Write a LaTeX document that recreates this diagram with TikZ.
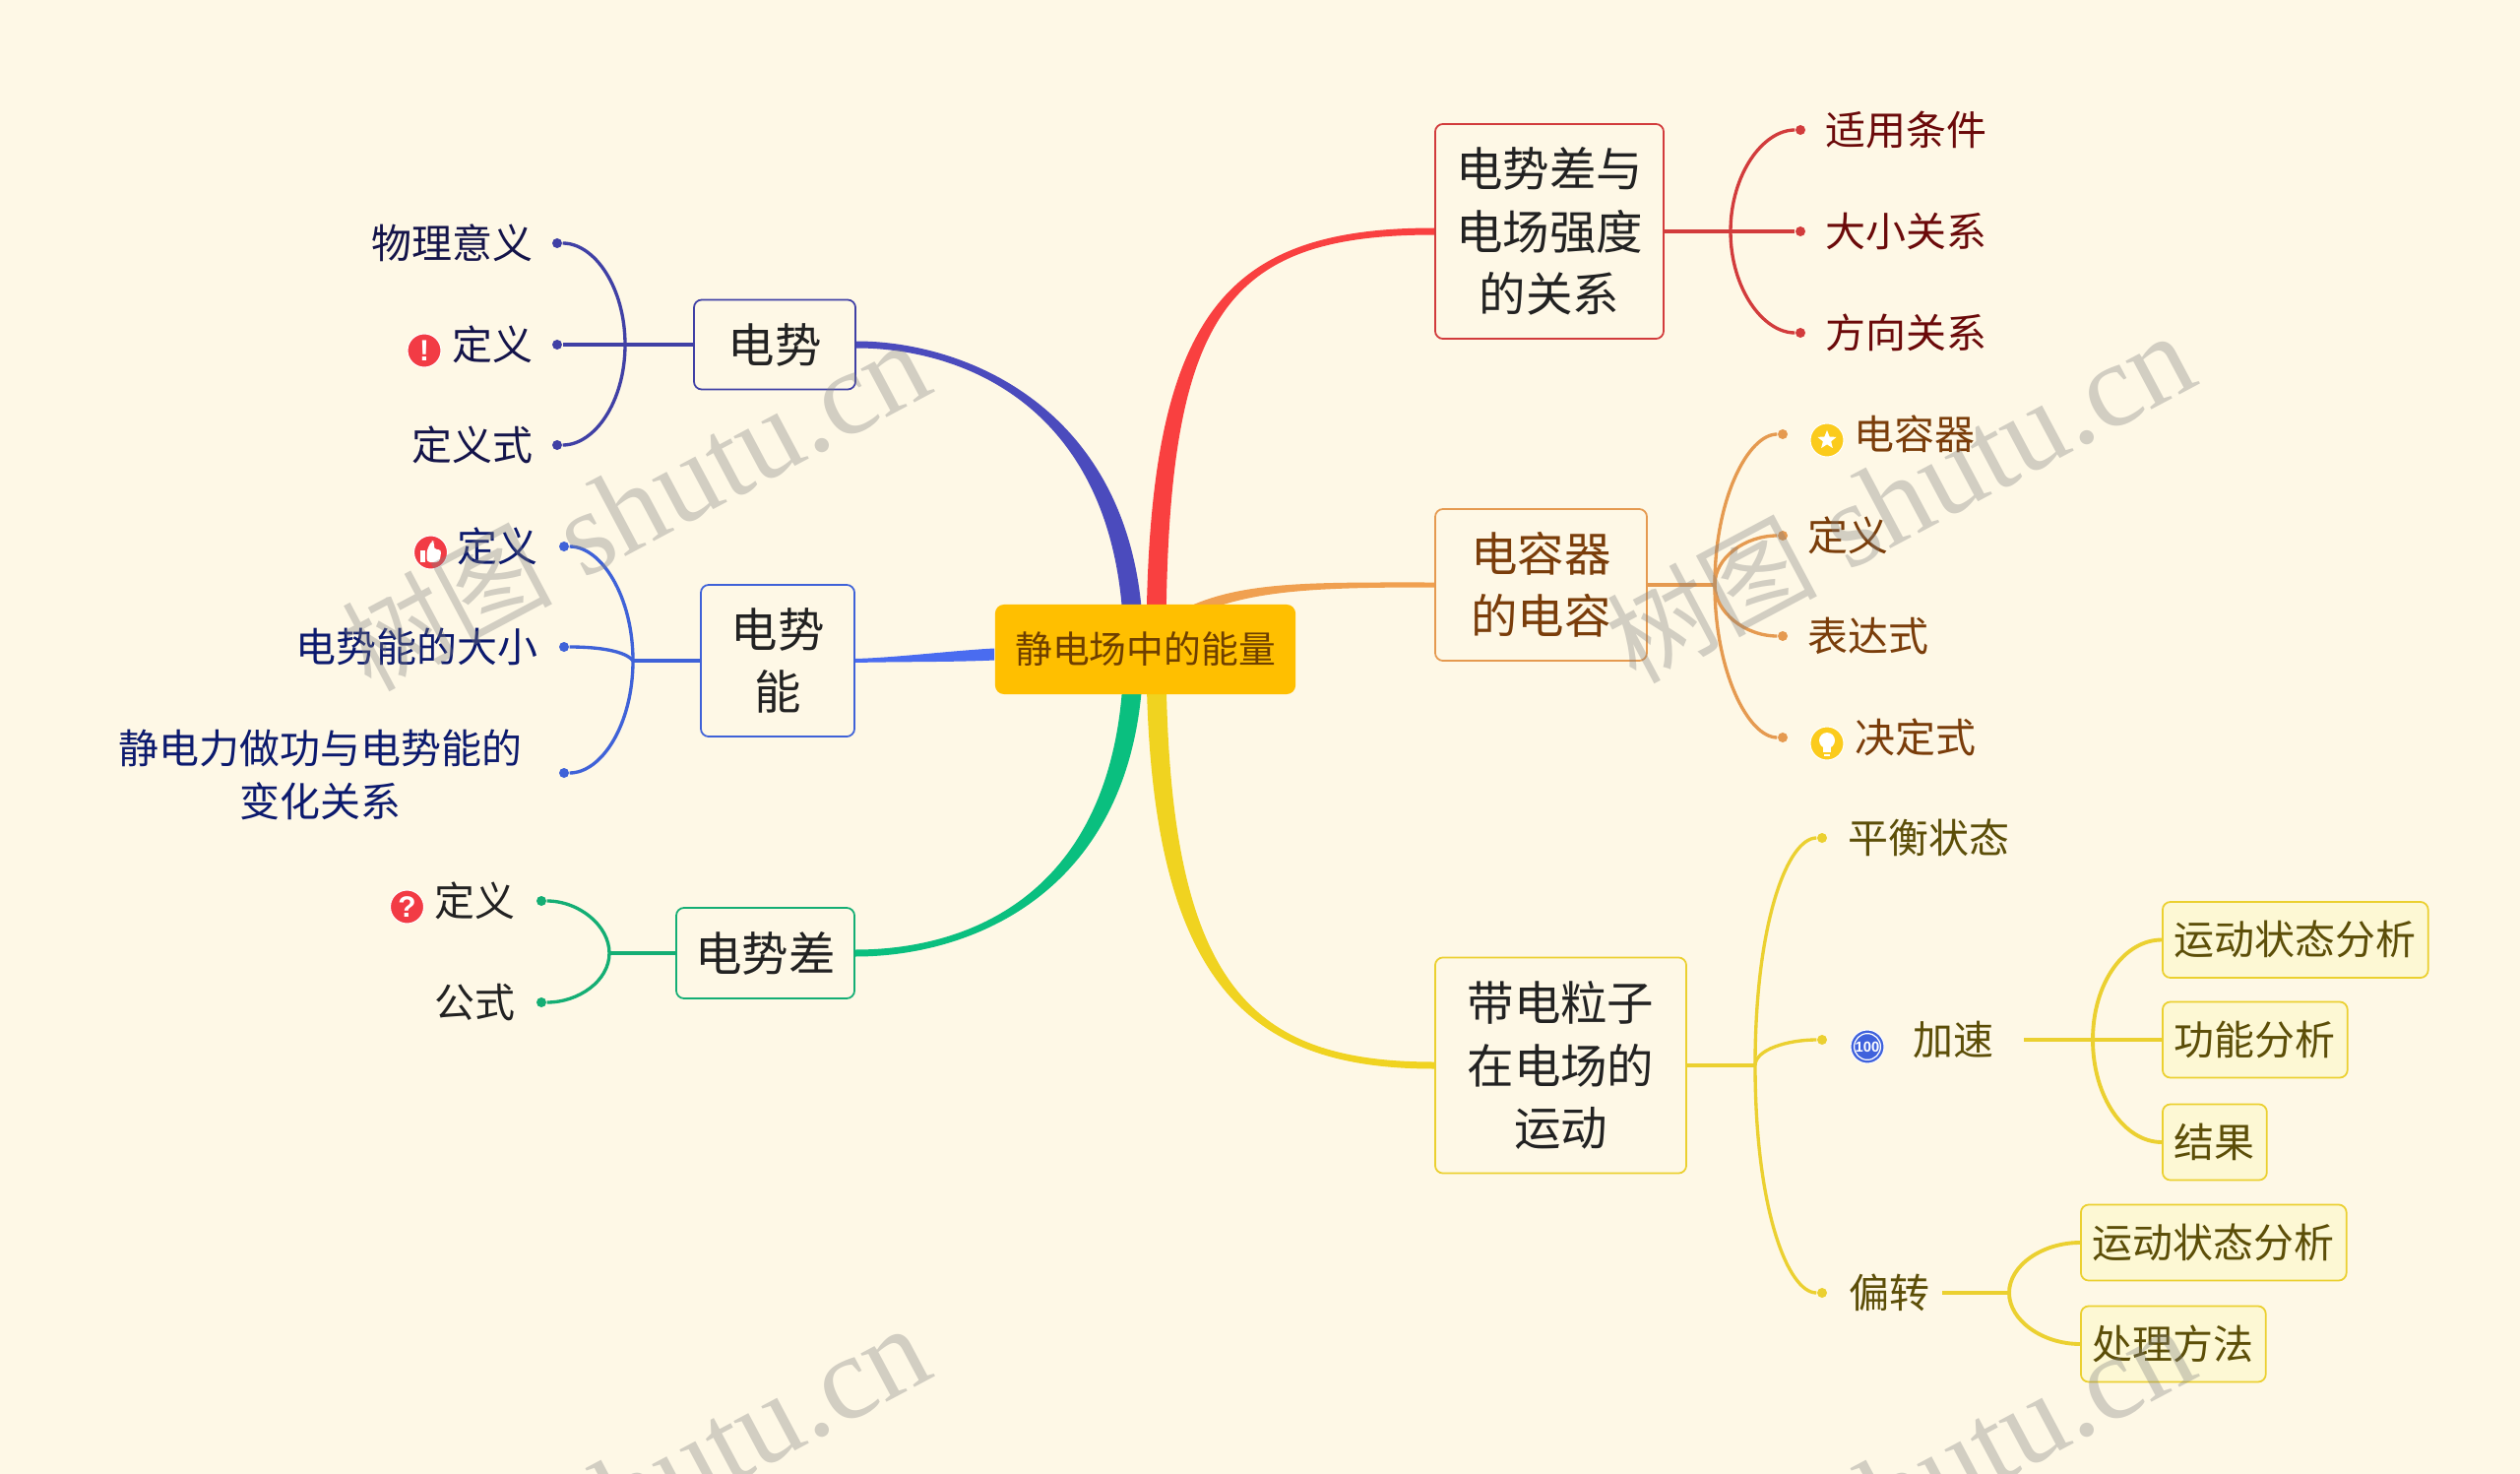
\documentclass[tikz,border=0pt]{standalone}
\usepackage{fontspec}
\setmainfont{Noto Sans CJK SC}
\newfontfamily\latinface{Liberation Sans}
\newfontfamily\markface{Liberation Serif}
\usetikzlibrary{arrows.meta,positioning,calc,backgrounds,shapes.geometric}
\definecolor{paper}{HTML}{FEF8E6}
\definecolor{ink}{HTML}{222222}
\definecolor{rootfill}{HTML}{FFBF00}
\definecolor{rootink}{HTML}{6E3F00}
\definecolor{indigo}{HTML}{4B4BBD}
\definecolor{indigoline}{HTML}{4040A5}
\definecolor{indigoink}{HTML}{14144A}
\definecolor{azure}{HTML}{4A6CF0}
\definecolor{azureline}{HTML}{3F62D8}
\definecolor{azureink}{HTML}{0C1A6E}
\definecolor{jade}{HTML}{0ABF7F}
\definecolor{jadeline}{HTML}{14AE74}
\definecolor{scarlet}{HTML}{F94040}
\definecolor{scarletline}{HTML}{D23C3C}
\definecolor{scarletink}{HTML}{6B0A0A}
\definecolor{amber}{HTML}{F0A050}
\definecolor{amberline}{HTML}{E59A50}
\definecolor{amberink}{HTML}{7A3D0A}
\definecolor{straw}{HTML}{F0D320}
\definecolor{strawline}{HTML}{EBD030}
\definecolor{strawink}{HTML}{5C4E08}
\definecolor{strawpale}{HTML}{FDF8D4}
\definecolor{badgered}{HTML}{F23B45}
\definecolor{badgegold}{HTML}{FBCB1C}
\definecolor{badgeblue}{HTML}{3F62DC}
\tikzset{
  topic/.style={rounded corners=.8mm,line width=.5pt,inner sep=0pt,align=center,
    font=\fontsize{13.5}{18}\selectfont},
  rootbox/.style={rounded corners=.9mm,fill=rootfill,inner sep=0pt,text=rootink,
    minimum width=3.05cm,minimum height=.91cm,font=\fontsize{10.75}{13}\selectfont},
  leaf/.style={inner sep=0pt,font=\fontsize{11.65}{15.3}\selectfont,
    text height=.352cm,text depth=.048cm},
  leafbox/.style={leaf,rounded corners=.8mm,draw=strawline,fill=strawpale,line width=.5pt,
    inner xsep=.12cm,minimum height=.77cm,text=strawink,anchor=west},
  knot/.style={circle,minimum size=.1cm,inner sep=0pt,fill=#1},
  twig/.style={line width=.95pt,color=#1},
  badge/.style={circle,minimum size=.34cm,inner sep=0pt,fill=#1,draw=white,line width=.3pt,
    text=white,font=\latinface\bfseries\fontsize{8.5}{9}\selectfont},
}
% colour, from, half width there, control off from, to, half width there, control off to
\newcommand{\limb}[7]{\fill[#1] ($#2+#3$) .. controls ($#2+#3+#4$) and ($#5+#6+#7$) .. ($#5+#6$)
  -- ($#5-#6$) .. controls ($#5-#6+#7$) and ($#2-#3+#4$) .. ($#2-#3$) -- cycle;}

\begin{document}
\begin{tikzpicture}[x=.01cm,y=-.01cm]
  \useasboundingbox (0,0) rectangle (2560,1497);

  \node[rootbox] (field) at (1163.5,659.5) {静电场中的能量};

  % left side
  \node[topic,draw=indigoline,text=ink,minimum width=1.64cm,minimum height=.91cm] (potential) at (787,350) {电势};
  \node[topic,draw=azureline,text=ink,minimum width=1.56cm,minimum height=1.54cm] (energy) at (790,671) {电势\\能};
  \node[topic,draw=jadeline,text=ink,minimum width=1.81cm,minimum height=.92cm] (difference) at (777.5,968) {电势差};

  \node[knot=indigoline] (pa) at (566,247) {};
  \node[knot=indigoline] (pb) at (566,350) {};
  \node[knot=indigoline] (pc) at (566,452) {};
  \node[leaf,text=indigoink,left=.18cm of pa] (pameaning) {物理意义};
  \node[leaf,text=indigoink,left=.18cm of pb] (padef) {定义};
  \node[leaf,text=indigoink,left=.18cm of pc] (paform) {定义式};
  \node[badge=badgered] (warnbadge) at (431,356) {!};
  \coordinate (pfork) at (635,350);

  \node[knot=azureline] (ea) at (573,555) {};
  \node[knot=azureline] (eb) at (573,657) {};
  \node[knot=azureline] (ec) at (573,785) {};
  \node[leaf,text=azureink,left=.2cm of ea] (eadef) {定义};
  \node[leaf,text=azureink,left=.2cm of eb] (easize) {电势能的大小};
  \node[inner sep=0pt,align=center,text=azureink,font=\fontsize{11.65}{15.3}\selectfont,left=.36cm of ec,yshift=-.02cm] (eawork)
    {静电力做功与电势能的\\变化关系};
  \node[badge=badgered] (thumbbadge) at (437.5,561) {};
  \fill[white] ($(thumbbadge)+(-11,-2)$) rectangle ($(thumbbadge)+(-6,10)$);
  \fill[white,rounded corners=1pt] ($(thumbbadge)+(-4,-2)$) -- ($(thumbbadge)+(1,-12)$) -- ($(thumbbadge)+(4,-11)$)
    -- ($(thumbbadge)+(3,-3)$) -- ($(thumbbadge)+(11,-3)$) -- ($(thumbbadge)+(9,10)$) -- ($(thumbbadge)+(-4,10)$) -- cycle;
  \coordinate (efork) at (643,671);

  \node[knot=jadeline] (da) at (550,915) {};
  \node[knot=jadeline] (db) at (550,1018) {};
  \node[leaf,text=ink,left=.2cm of da] (dadef) {定义};
  \node[leaf,text=ink,left=.2cm of db] (daform) {公式};
  \node[badge=badgered] (askbadge) at (413.5,921) {?};
  \coordinate (dfork) at (619,968);

  % right side
  \node[topic,draw=scarletline,text=ink,minimum width=2.32cm,minimum height=2.18cm] (strength) at (1574,235)
    {电势差与\\电场强度\\的关系};
  \node[topic,draw=amberline,text=amberink,minimum width=2.15cm,minimum height=1.54cm] (capacity) at (1565.5,594)
    {电容器\\的电容};
  \node[topic,draw=strawline,text=ink,minimum width=2.55cm,minimum height=2.19cm] (motion) at (1585.5,1082)
    {带电粒子\\在电场的\\运动};

  \node[knot=scarletline] (sa) at (1829,132) {};
  \node[knot=scarletline] (sb) at (1829,235) {};
  \node[knot=scarletline] (sc) at (1829,338) {};
  \node[leaf,text=scarletink,right=.19cm of sa] (sacond) {适用条件};
  \node[leaf,text=scarletink,right=.19cm of sb] (sasize) {大小关系};
  \node[leaf,text=scarletink,right=.19cm of sc] (sadir) {方向关系};
  \coordinate (sfork) at (1758,235);

  \node[knot=amberline] (ca) at (1811,441) {};
  \node[knot=amberline] (cb) at (1811,544) {};
  \node[knot=amberline] (cc) at (1811,646) {};
  \node[knot=amberline] (cd) at (1811,749) {};
  \node[leaf,text=amberink,right=.66cm of ca] (cacap) {电容器};
  \node[leaf,text=amberink,right=.19cm of cb] (cadef) {定义};
  \node[leaf,text=amberink,right=.19cm of cc] (caform) {表达式};
  \node[leaf,text=amberink,right=.67cm of cd] (cadecide) {决定式};
  \node[badge=badgegold] (starbadge) at (1856,447) {};
  \node[star,star points=5,star point ratio=2.3,fill=white,minimum size=.2cm,inner sep=0pt] (starmark) at (starbadge) {};
  \node[badge=badgegold] (bulbbadge) at (1856,755) {};
  \fill[white] ($(bulbbadge)+(0,-3)$) circle [radius=8];
  \fill[white] ($(bulbbadge)+(-4,3)$) rectangle ($(bulbbadge)+(4,9)$);
  \fill[white] ($(bulbbadge)+(-3,11)$) rectangle ($(bulbbadge)+(3,13)$);
  \coordinate (cfork) at (1742,594);

  \node[knot=strawline] (ma) at (1851,851) {};
  \node[knot=strawline] (mb) at (1851,1056) {};
  \node[knot=strawline] (mc) at (1851,1313) {};
  \node[leaf,text=strawink,right=.2cm of ma] (mastate) {平衡状态};
  \node[leaf,text=strawink,inner xsep=.3cm,right=.56cm of mb] (maspeed) {加速};
  \node[leaf,text=strawink,inner xsep=.12cm,right=.09cm of mc] (maturn) {偏转};
  \node[badge=badgeblue] (scorebadge) at (1897,1063) {};
  \node[circle,draw=white,line width=.35pt,minimum size=.25cm,inner sep=0pt,text=white,
    font=\latinface\bfseries\fontsize{4.2}{5}\selectfont] (scoremark) at (scorebadge) {100};
  \coordinate (mfork) at (1783,1082);

  \node[leafbox] (speeda) at (2196,954.5) {运动状态分析};
  \node[leafbox] (speedb) at (2196,1056) {功能分析};
  \node[leafbox] (speedc) at (2196,1160) {结果};
  \coordinate (speedfork) at (2126,1056);
  \node[leafbox] (turna) at (2113,1262) {运动状态分析};
  \node[leafbox] (turnb) at (2113,1365) {处理方法};
  \coordinate (turnfork) at (2041,1313);

  \begin{scope}[on background layer]
    \fill[paper] (0,0) rectangle (2560,1497);
    \limb{indigo}{(field.center)+(-12,0)}{(10,0)}{(0,-240)}{(potential.east)}{(0,-3.5)}{(115,0)}
    \limb{scarlet}{(field.center)+(11,0)}{(10,0)}{(0,-340)}{(strength.west)}{(0,3.5)}{(-215,0)}
    \limb{jade}{(field.center)+(-12,0)}{(10,0)}{(0,240)}{(difference.east)}{(0,3.5)}{(125,0)}
    \limb{straw}{(field.center)+(11,0)}{(10,0)}{(0,340)}{(motion.west)}{(0,-3.5)}{(-190,0)}
    \limb{azure}{(field.west)+(0,5)}{(0,6)}{(-40,2)}{(energy.east)}{(0,2)}{(40,-1)}
    \limb{amber}{(field.center)+(30,-30)}{(2,5)}{(60,-35)}{(capacity.west)}{(0,2.5)}{(-130,0)}
  \end{scope}

  \draw[twig=indigoline] (potential.west) -- (pb);
  \draw[twig=indigoline] (pfork) .. controls +(0,-58) and +(38,0) .. (pa);
  \draw[twig=indigoline] (pfork) .. controls +(0,58) and +(38,0) .. (pc);

  \draw[twig=azureline] (energy.west) -- (efork);
  \draw[twig=azureline] (efork) .. controls +(0,-65) and +(38,0) .. (ea);
  \draw[twig=azureline] (efork) .. controls +(-8,-10) and +(35,0) .. (eb);
  \draw[twig=azureline] (efork) .. controls +(0,65) and +(38,0) .. (ec);

  \draw[twig=jadeline] (difference.west) -- (dfork);
  \draw[twig=jadeline] (dfork) .. controls +(0,-28) and +(38,0) .. (da);
  \draw[twig=jadeline] (dfork) .. controls +(0,28) and +(38,0) .. (db);

  \draw[twig=scarletline] (strength.east) -- (sb);
  \draw[twig=scarletline] (sfork) .. controls +(0,-58) and +(-38,0) .. (sa);
  \draw[twig=scarletline] (sfork) .. controls +(0,58) and +(-38,0) .. (sc);

  \draw[twig=amberline] (capacity.east) -- (cfork);
  \draw[twig=amberline] (cfork) .. controls +(0,-88) and +(-35,0) .. (ca);
  \draw[twig=amberline] (cfork) .. controls +(0,-28) and +(-38,0) .. (cb);
  \draw[twig=amberline] (cfork) .. controls +(0,28) and +(-38,0) .. (cc);
  \draw[twig=amberline] (cfork) .. controls +(0,88) and +(-35,0) .. (cd);

  \draw[twig=strawline] (motion.east) -- (mfork);
  \draw[twig=strawline] (mfork) .. controls +(0,-145) and +(-35,0) .. (ma);
  \draw[twig=strawline] (mfork) .. controls +(0,-16) and +(-35,0) .. (mb);
  \draw[twig=strawline] (mfork) .. controls +(0,145) and +(-35,0) .. (mc);

  \draw[twig=strawline,line width=1.1pt] (maspeed.east) -- (speedb.west);
  \draw[twig=strawline,line width=1.1pt] (speedfork) .. controls +(0,-58) and +(-38,0) .. (speeda.west);
  \draw[twig=strawline,line width=1.1pt] (speedfork) .. controls +(0,58) and +(-38,0) .. (speedc.west);
  \draw[twig=strawline,line width=1.1pt] (maturn.east) -- (turnfork);
  \draw[twig=strawline,line width=1.1pt] (turnfork) .. controls +(0,-28) and +(-38,0) .. (turna.west);
  \draw[twig=strawline,line width=1.1pt] (turnfork) .. controls +(0,28) and +(-38,0) .. (turnb.west);

  % watermark
  \begin{scope}
    \clip (0,0) rectangle (2560,1497);
    \foreach \mx/\my [count=\mi] in {645/514,1930/506,645/1514,1930/1514}
      \node[rotate=28,text=gray,opacity=.35,inner sep=0pt,font=\fontsize{30.5}{40}\selectfont] (mark\mi) at (\mx,\my)
        {树图{\markface\fontsize{34.5}{40}\selectfont\ shutu.cn}};
  \end{scope}
\end{tikzpicture}
\end{document}
